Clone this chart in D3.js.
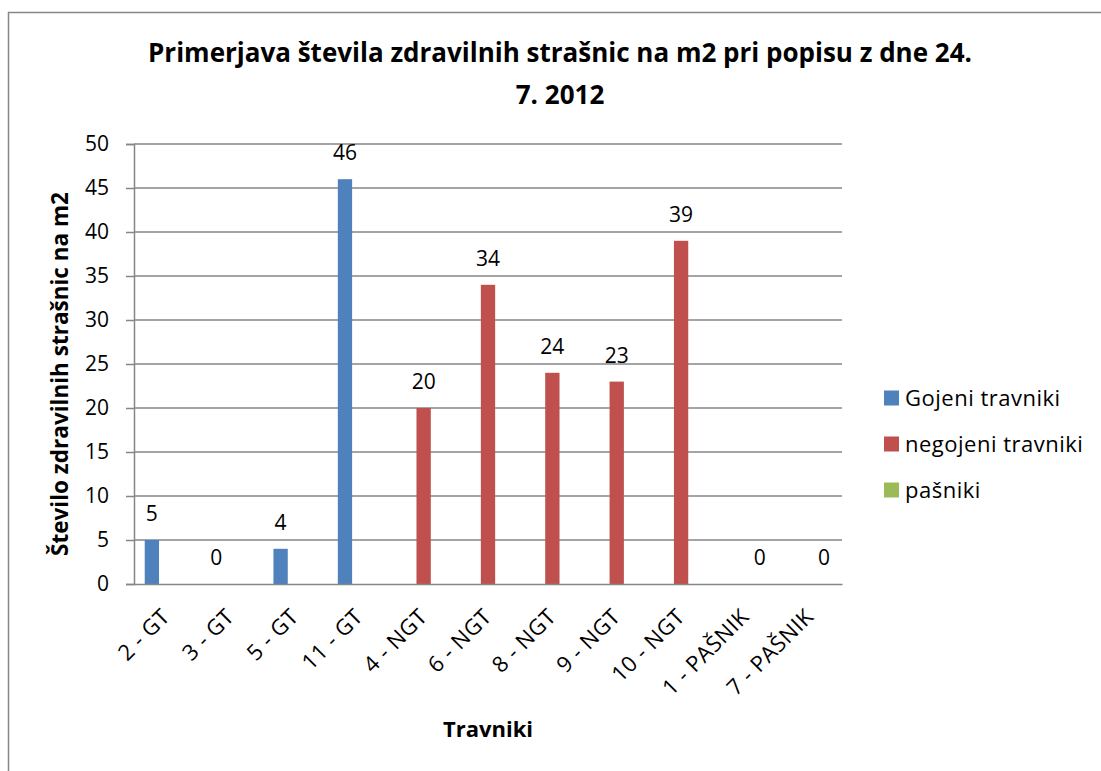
<!DOCTYPE html>
<html>
<head>
<meta charset="utf-8">
<script src="https://cdn.jsdelivr.net/npm/d3@7"></script>
<style>
  body { margin: 0; background: #fff; }
  svg text { font-family: "Open Sans", sans-serif; fill: #000; }
</style>
</head>
<body>
<svg id="chart" width="1101" height="771"></svg>
<script>
// data
var categories = ["2 - GT", "3 - GT", "5 - GT", "11 - GT", "4 - NGT", "6 - NGT",
                  "8 - NGT", "9 - NGT", "10 - NGT", "1 - PAŠNIK", "7 - PAŠNIK"];
var seriesNames = ["Gojeni travniki", "negojeni travniki", "pašniki"];
var gojeni   = [5, 0, 4, 46, null, null, null, null, null, null, null];
var negojeni = [null, null, null, null, 20, 34, 24, 23, 39, null, null];
var pasniki  = [null, null, null, null, null, null, null, null, null, 0, 0];
var yTicks = [0, 5, 10, 15, 20, 25, 30, 35, 40, 45, 50];
var colors = ["#4f81bd", "#c0504d", "#9bbb59"];

var seriesValues = [gojeni, negojeni, pasniki];

var svg = d3.select("#chart");
var plot = {left: 134, right: 842, top: 144, bottom: 584};

// outer frame of the chart
svg.append("rect")
    .attr("x", 8.5).attr("y", 12.5)
    .attr("width", 1200).attr("height", 900)
    .attr("fill", "none").attr("stroke", "#868686").attr("stroke-width", 1.5);

var x0 = d3.scaleBand().domain(categories).range([plot.left, plot.right]).padding(0);
var x1 = d3.scaleBand().domain(seriesNames).range([0, x0.bandwidth()])
        .paddingInner(0).paddingOuter(0.75);
var y = d3.scaleLinear().domain([0, 50]).range([plot.bottom, plot.top]);

/** gridlines + y axis **/
var yAxis = d3.axisLeft(y).tickValues(yTicks).tickSize(8).tickPadding(17);
var gy = svg.append("g").attr("transform", "translate(" + plot.left + ",0)").call(yAxis);
gy.select(".domain").attr("stroke", "#868686").attr("stroke-width", 1.5);
gy.selectAll(".tick line").attr("stroke", "#868686").attr("stroke-width", 1.5);
gy.selectAll(".tick text").attr("font-size", "21px").attr("fill", "#000")
    .style("font-family", "'Open Sans', sans-serif");

svg.append("g").selectAll("line").data(yTicks.slice(1)).enter()
    .append("line")
    .attr("x1", plot.left).attr("x2", plot.right)
    .attr("y1", function(d) { return y(d); })
    .attr("y2", function(d) { return y(d); })
    .attr("stroke", "#868686").attr("stroke-width", 1.5);

/** bars **/
var rows = [];
seriesValues.forEach(function(vals, s) {
    vals.forEach(function(v, i) {
        if (v !== null) rows.push({cat: categories[i], series: seriesNames[s], s: s, value: v});
    });
});

svg.append("g").selectAll("rect").data(rows).enter()
    .append("rect")
    .attr("x", function(d) { return x0(d.cat) + x1(d.series); })
    .attr("y", function(d) { return y(d.value); })
    .attr("width", x1.bandwidth())
    .attr("height", function(d) { return plot.bottom - y(d.value); })
    .attr("fill", function(d) { return colors[d.s]; });

svg.append("g").selectAll("text").data(rows).enter()
    .append("text")
    .text(function(d) { return d.value; })
    .attr("text-anchor", "middle")
    .attr("font-size", "21px")
    .attr("x", function(d) { return x0(d.cat) + x1(d.series) + x1.bandwidth() / 2; })
    .attr("y", function(d) { return y(d.value) - 19; });

/** x axis **/
var xAxis = d3.axisBottom(x0).tickSize(0).tickPadding(0);
var gx = svg.append("g").attr("transform", "translate(0," + plot.bottom + ")").call(xAxis);
gx.select(".domain").attr("stroke", "#868686").attr("stroke-width", 1.5);
gx.selectAll(".tick text")
    .attr("font-size", "22px").attr("fill", "#000")
    .style("font-family", "'Open Sans', sans-serif")
    .style("letter-spacing", "0.5px")
    .attr("text-anchor", "end")
    .attr("dy", null).attr("y", 0)
    .attr("transform", "translate(5,34) rotate(-45)");

/** titles **/
svg.append("text")
    .attr("x", 560).attr("y", 62)
    .attr("text-anchor", "middle")
    .attr("font-size", "26px").attr("font-weight", "bold")
    .text("Primerjava števila zdravilnih strašnic na m2 pri popisu z dne 24.");
svg.append("text")
    .attr("x", 560).attr("y", 104)
    .attr("text-anchor", "middle")
    .attr("font-size", "26px").attr("font-weight", "bold")
    .text("7. 2012");

svg.append("text")
    .attr("transform", "translate(68,374) rotate(-90)")
    .attr("text-anchor", "middle")
    .attr("font-size", "22.5px").attr("font-weight", "bold")
    .text("Število zdravilnih strašnic na m2");

svg.append("text")
    .attr("x", 488).attr("y", 737)
    .attr("text-anchor", "middle")
    .attr("font-size", "22px").attr("font-weight", "bold")
    .text("Travniki");

/** legend **/
var legend = svg.append("g").selectAll("g").data(seriesNames).enter()
    .append("g")
    .attr("transform", function(d, i) { return "translate(884," + (398 + i * 46) + ")"; });
legend.append("rect")
    .attr("x", 0).attr("y", -7.5).attr("width", 15).attr("height", 15)
    .attr("fill", function(d, i) { return colors[i]; });
legend.append("text")
    .attr("x", 21).attr("y", 8)
    .attr("font-size", "22px")
    .style("letter-spacing", "0.5px")
    .text(function(d) { return d; });
</script>
</body>
</html>
